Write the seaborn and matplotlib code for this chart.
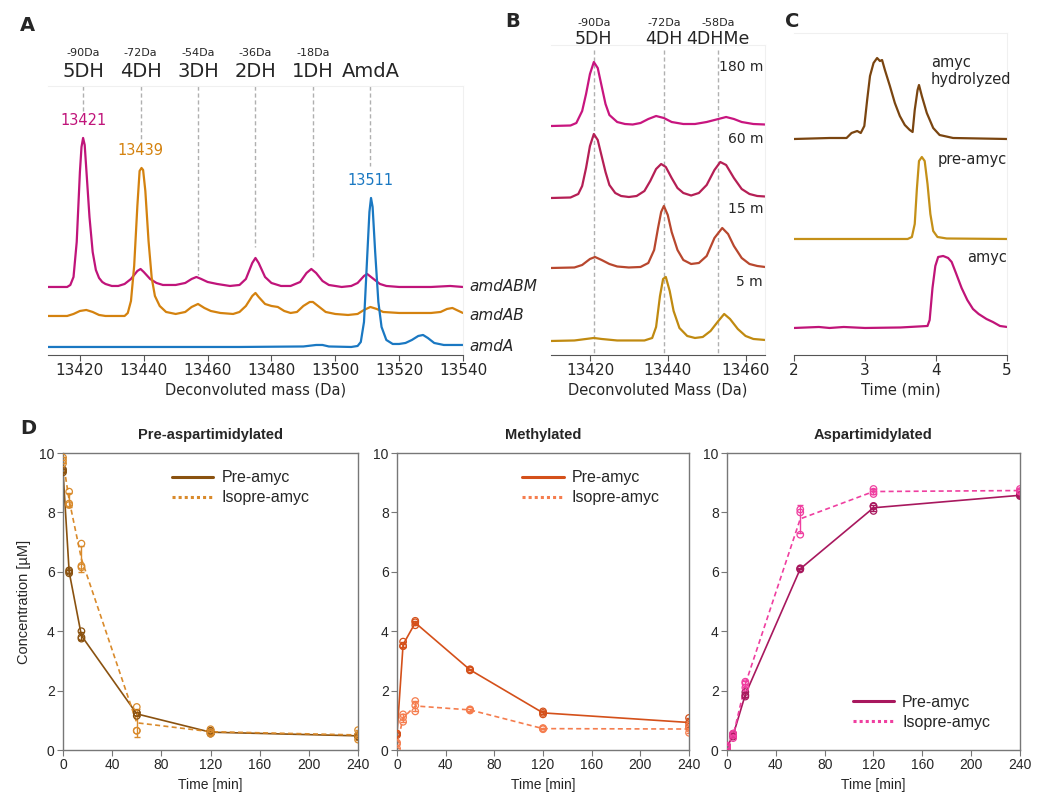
import numpy as np
import pandas as pd
import matplotlib
matplotlib.use("Agg")
import matplotlib.pyplot as plt
from matplotlib.lines import Line2D
import seaborn as sns

sns.set_style("white")
plt.rcParams["font.family"] = ["DejaVu Sans"]

# ---------------- Panel A: deconvoluted spectra (height above trace baseline) ----------------
A_ABM_MASS = [13410, 13416, 13417, 13418, 13419, 13420, 13420.5, 13421, 13421.5, 13422, 13423, 13424,
              13425, 13426, 13427, 13428, 13430, 13432, 13434, 13436, 13438, 13439, 13440, 13442,
              13444, 13446, 13450, 13453, 13455, 13456.5, 13458, 13460, 13463, 13467, 13470, 13472,
              13474, 13475, 13476, 13478, 13480, 13483, 13486, 13489, 13491, 13492.5, 13494, 13496,
              13498, 13502, 13505, 13507, 13509, 13510, 13512, 13514, 13516, 13520, 13530, 13536, 13540]
A_ABM_INT = [0, 0, 2, 10, 45, 115, 140, 149, 142, 118, 70, 35,
             17, 9, 5, 3, 1, 1, 3, 8, 16, 18, 15, 8,
             4, 2, 2, 4, 8, 10, 8, 5, 3, 1, 2, 8,
             24, 29, 24, 10, 4, 1, 1, 5, 14, 18, 14, 6,
             2, 0, 1, 4, 11, 13, 8, 3, 1, 0, 0, 1, 0]
A_AB_MASS = [13410, 13416, 13418, 13420, 13422, 13424, 13426, 13428, 13434, 13435, 13436, 13437,
             13438, 13438.7, 13439.3, 13439.8, 13440.5, 13441.5, 13442.5, 13443.5, 13445, 13447, 13450,
             13453, 13455, 13457, 13459, 13461, 13464, 13468, 13470, 13472, 13474, 13475, 13476,
             13478, 13480, 13482, 13484, 13486, 13488, 13490, 13492, 13493, 13495, 13497, 13500,
             13504, 13507, 13509, 13511, 13513, 13515, 13520, 13530, 13533, 13535, 13536.7, 13538, 13540]
A_AB_INT = [0, 0, 2, 5, 6, 4, 1, 0, 0, 3, 15, 50,
            110, 145, 148, 146, 125, 75, 38, 20, 10, 4, 2,
            4, 9, 12, 8, 5, 3, 2, 4, 10, 20, 23, 19,
            12, 10, 9, 5, 3, 4, 10, 14, 14, 9, 4, 2,
            1, 2, 6, 9, 7, 4, 3, 3, 4, 7, 8, 6, 3]
A_A_MASS = [13410, 13470, 13490, 13494, 13496, 13498, 13505, 13507, 13508, 13509, 13510, 13510.7,
            13511.2, 13511.7, 13512.5, 13513.5, 13514.5, 13516, 13518, 13520, 13522, 13524, 13526,
            13527.5, 13529, 13531, 13534, 13540]
A_A_INT = [0, 0, 0.5, 2, 2, 0.5, 0, 1, 5, 25, 90, 135,
           149, 140, 95, 45, 20, 7, 3, 3, 4, 7, 11,
           12, 9, 4, 2, 2]

A_TRACES = ["amdABM", "amdAB", "amdA"]
A_COLORS = ["#c0147a", "#d4820f", "#1a78c2"]
A_OFFSETS = [68, 39, 8]
A_PEAK_LABELS = ["13421", "13439", "13511"]
A_PEAK_MASS = [13421, 13439, 13511]

A_DH_MASS = [13421, 13439, 13457, 13475, 13493, 13511]
A_DH_NAMES = ["5DH", "4DH", "3DH", "2DH", "1DH", "AmdA"]
A_DH_SHIFT = ["-90Da", "-72Da", "-54Da", "-36Da", "-18Da", ""]
A_DH_LINE_END = [243, 212, 80, 108, 95, 189]

# ---------------- Panel B: time course spectra ----------------
B_180_MASS = [13410, 13415, 13416.5, 13418, 13419, 13420, 13421, 13422, 13423, 13424, 13425, 13427,
              13429, 13431, 13433, 13435, 13437, 13439, 13441, 13444, 13447, 13450, 13453, 13455,
              13457, 13459, 13462, 13465]
B_180_INT = [0, 0.5, 3, 15, 32, 52, 64, 58, 40, 22, 11, 4,
             2, 1.5, 3, 7, 10, 8, 4, 2, 2, 4, 7, 9,
             7, 4, 2, 1.5]
B_60_MASS = [13410, 13415, 13417, 13418, 13419, 13420, 13421, 13422, 13423, 13424, 13425, 13426.5,
             13428, 13430, 13432, 13434, 13435.5, 13437, 13438.3, 13439.5, 13441, 13442.5, 13444,
             13446, 13448, 13450, 13452, 13453.5, 13455, 13457, 13459, 13461, 13463, 13465]
B_60_INT = [0, 0.5, 4, 12, 30, 52, 64, 58, 42, 26, 13, 5,
            2, 1, 2, 7, 17, 29, 34, 31, 20, 10, 5,
            2.5, 5, 13, 28, 36, 33, 20, 9, 4, 2, 1.5]
B_15_MASS = [13410, 13416, 13418, 13420, 13421.3, 13423, 13425, 13427, 13430, 13433, 13435, 13436.5,
             13437.5, 13438.3, 13439, 13440, 13441, 13442.5, 13444, 13446, 13448, 13450, 13452,
             13454, 13455.5, 13457, 13459, 13461, 13463, 13465]
B_15_INT = [0, 0.5, 3, 9, 11, 8, 4, 1.5, 0.5, 1, 5, 18,
            40, 56, 62, 53, 36, 18, 8, 4, 5, 12, 30,
            40, 34, 22, 10, 4, 2, 1]
B_5_MASS = [13410, 13416, 13419, 13421, 13423, 13427, 13434, 13436, 13437, 13438, 13438.8, 13439.5,
            13440.5, 13441.5, 13443, 13445, 13447, 13449, 13451, 13453, 13454.5, 13456, 13458,
            13460, 13462, 13465]
B_5_INT = [0, 0.5, 2, 3, 2, 0.5, 0.5, 3, 14, 45, 62, 64,
           50, 30, 13, 5, 3, 4, 10, 20, 27, 22, 12,
           5, 2, 1]

B_TRACES = ["180 m", "60 m", "15 m", "5 m"]
B_COLORS = ["#c8157f", "#b51f55", "#b8472e", "#c08a10"]
B_OFFSETS = [229, 157, 87, 14]
B_DH_MASS = [13421, 13439, 13453]
B_DH_NAMES = ["5DH", "4DH", "4DHMe"]
B_DH_SHIFT = ["-90Da", "-72Da", "-58Da"]

# ---------------- Panel C: chromatograms ----------------
C_HYD_TIME = [2.0, 2.5, 2.74, 2.81, 2.89, 2.94, 2.99, 3.03, 3.07, 3.12, 3.17, 3.21, 3.24, 3.28,
              3.35, 3.42, 3.49, 3.56, 3.63, 3.67, 3.70, 3.74, 3.76, 3.80, 3.87, 3.96, 4.05, 4.24, 5.0]
C_HYD_INT = [0, 1, 1, 6, 8, 6, 13, 39, 63, 76, 81, 78, 79, 69,
             53, 36, 23, 14, 9, 7, 29, 49, 54, 43, 26, 11, 4, 1, 0]
C_PRE_TIME = [2.0, 3.6, 3.66, 3.70, 3.73, 3.76, 3.80, 3.84, 3.88, 3.92, 3.96, 4.02, 4.15, 5.0]
C_PRE_INT = [0, 0, 2, 15, 50, 78, 82, 78, 55, 25, 8, 2, 0.5, 0]
C_AMYC_TIME = [2.0, 2.35, 2.5, 2.7, 3.0, 3.5, 3.88, 3.91, 3.95, 3.99, 4.03, 4.10, 4.17, 4.22,
               4.28, 4.36, 4.44, 4.52, 4.60, 4.71, 4.80, 4.90, 5.0]
C_AMYC_INT = [0, 1, 0, 1, 0, 0.5, 2, 8, 40, 62, 71, 72, 70, 66,
              55, 40, 28, 19, 14, 9, 6, 2, 1]
C_TRACES = ["amyc\nhydrolyzed", "pre-amyc", "amyc"]
C_COLORS = ["#7a4510", "#c49018", "#c01478"]
C_OFFSETS = [216, 116, 27]

# ---------------- Panel D: kinetics (three replicates per time point) ----------------
TIMES = [0, 5, 15, 60, 120, 240]
D_TITLES = ["Pre-aspartimidylated", "Methylated", "Aspartimidylated"]
D_SERIES = ["Pre-amyc", "Isopre-amyc"]
D_COLORS = [["#8a5210", "#d98a2b"], ["#d4501a", "#f57d4e"], ["#a8185e", "#ef3fa0"]]

PRE_ASP_PRE = [[9.35, 9.45, 9.40], [6.05, 5.95, 6.00], [4.00, 3.80, 3.75],
               [1.25, 1.15, 1.25], [0.55, 0.60, 0.65], [0.45, 0.50, 0.48]]
PRE_ASP_ISO = [[9.85, 9.75, 9.65], [8.70, 8.30, 8.25], [6.95, 6.20, 6.15],
               [1.45, 0.65, 0.65], [0.70, 0.60, 0.55], [0.67, 0.50, 0.35]]
METH_PRE = [[0.55, 0.50, 0.55], [3.50, 3.65, 3.50], [4.35, 4.30, 4.20],
            [2.70, 2.72, 2.68], [1.30, 1.25, 1.20], [1.08, 0.92, 0.78]]
METH_ISO = [[0.25, 0.05, 0.20], [1.20, 0.95, 1.10], [1.65, 1.30, 1.50],
            [1.35, 1.33, 1.37], [0.72, 0.70, 0.74], [0.58, 0.72, 0.82]]
ASP_PRE = [[0.05, 0.10, 0.15], [0.50, 0.55, 0.45], [1.85, 1.95, 1.80],
           [6.10, 6.08, 6.12], [8.22, 8.05, 8.20], [8.58, 8.55, 8.60]]
ASP_ISO = [[0.05, 0.10, 0.15], [0.55, 0.40, 0.50], [2.25, 2.30, 2.10],
           [8.10, 7.25, 8.00], [8.79, 8.62, 8.70], [8.79, 8.70, 8.72]]


def spectra_df(names, masses, ints, offsets):
    rows = []
    for n, m, h, off in zip(names, masses, ints, offsets):
        for x, y in zip(m, h):
            rows.append({"x": x, "y": y + off, "trace": n})
    return pd.DataFrame(rows)


def style_spectrum_axis(ax):
    sns.despine(ax=ax, left=True, top=False, right=False)
    ax.spines["top"].set_color("#f0f0f0")
    ax.spines["right"].set_color("#f0f0f0")
    ax.spines["bottom"].set_color("#555555")
    ax.set_yticks([])
    ax.set_ylabel("")
    ax.tick_params(axis="x", bottom=True, length=4, color="#555555", labelsize=11, pad=2)
    ax.set_xlabel(ax.get_xlabel(), fontsize=10.5, labelpad=3)


fig = plt.figure(figsize=(10.5, 8.11), dpi=100)

# ---- A ----
axA = fig.add_axes([0.0457, 0.5623, 0.3952, 0.3317])
dfA = spectra_df(A_TRACES, [A_ABM_MASS, A_AB_MASS, A_A_MASS], [A_ABM_INT, A_AB_INT, A_A_INT], A_OFFSETS)
for m, end in zip(A_DH_MASS, A_DH_LINE_END):
    axA.plot([m, m], [269, end], ls=(0, (3, 2)), color="#b0b0b0", lw=1, zorder=1)
sns.lineplot(data=dfA, x="x", y="y", hue="trace", palette=dict(zip(A_TRACES, A_COLORS)),
             estimator=None, sort=False, lw=1.6, legend=False, ax=axA)
axA.set_xlim(13410, 13540)
axA.set_ylim(0, 269)
axA.set_xticks(range(13420, 13541, 20))
axA.set_xlabel("Deconvoluted mass (Da)")
style_spectrum_axis(axA)
for m, lab, n, c in zip(A_PEAK_MASS, A_PEAK_LABELS, A_TRACES, A_COLORS):
    peak = dfA[dfA.trace == n].y.max()
    axA.text(m, peak + 10, lab, color=c, fontsize=10.5, ha="center", va="bottom")
for m, name, shift in zip(A_DH_MASS, A_DH_NAMES, A_DH_SHIFT):
    axA.text(m, 283, name, fontsize=14, ha="center", va="center", clip_on=False)
    if shift:
        axA.text(m, 302, shift, fontsize=8, ha="center", va="center", clip_on=False)
for n, off in zip(A_TRACES, A_OFFSETS):
    axA.text(13542, off, n, fontsize=11, style="italic", ha="left", va="center", clip_on=False)

# ---- B ----
axB = fig.add_axes([0.5248, 0.5623, 0.2038, 0.3822])
dfB = spectra_df(B_TRACES, [B_180_MASS, B_60_MASS, B_15_MASS, B_5_MASS],
                 [B_180_INT, B_60_INT, B_15_INT, B_5_INT], B_OFFSETS)
for m in B_DH_MASS:
    axB.plot([m, m], [305, 0], ls=(0, (3, 2)), color="#b0b0b0", lw=1, zorder=1)
sns.lineplot(data=dfB, x="x", y="y", hue="trace", palette=dict(zip(B_TRACES, B_COLORS)),
             estimator=None, sort=False, lw=1.6, legend=False, ax=axB)
axB.set_xlim(13410, 13465)
axB.set_ylim(0, 310)
axB.set_xticks([13420, 13440, 13460])
axB.set_xlabel("Deconvoluted Mass (Da)")
style_spectrum_axis(axB)
for m, name, shift in zip(B_DH_MASS, B_DH_NAMES, B_DH_SHIFT):
    axB.text(m, 316, name, fontsize=12.5, ha="center", va="center", clip_on=False)
    axB.text(m, 332, shift, fontsize=8, ha="center", va="center", clip_on=False)
for n, off in zip(B_TRACES, B_OFFSETS):
    axB.text(13464.5, off + 59, n, fontsize=10, ha="right", va="center")

# ---- C ----
axC = fig.add_axes([0.7562, 0.5623, 0.2029, 0.397])
dfC = spectra_df(C_TRACES, [C_HYD_TIME, C_PRE_TIME, C_AMYC_TIME],
                 [C_HYD_INT, C_PRE_INT, C_AMYC_INT], C_OFFSETS)
sns.lineplot(data=dfC, x="x", y="y", hue="trace", palette=dict(zip(C_TRACES, C_COLORS)),
             estimator=None, sort=False, lw=1.6, legend=False, ax=axC)
axC.set_xlim(2, 5)
axC.set_ylim(0, 322)
axC.set_xticks([2, 3, 4, 5])
axC.set_xlabel("Time (min)")
style_spectrum_axis(axC)
axC.text(3.93, 284, C_TRACES[0], fontsize=10.5, ha="left", va="center", linespacing=1.2)
axC.text(5.0, 195, C_TRACES[1], fontsize=10.5, ha="right", va="center")
axC.text(5.0, 97, C_TRACES[2], fontsize=10.5, ha="right", va="center")

# ---- D ----
d_data = [[PRE_ASP_PRE, PRE_ASP_ISO], [METH_PRE, METH_ISO], [ASP_PRE, ASP_ISO]]
d_lefts = [0.06, 0.3781, 0.6924]
d_widths = [0.281, 0.2781, 0.279]
legend_locs = [(0.32, 0.99), (0.38, 0.99), (0.38, 0.02)]
for i in range(3):
    ax = fig.add_axes([d_lefts[i], 0.0752, d_widths[i], 0.3662])
    handles = []
    for j, (series, reps) in enumerate(zip(D_SERIES, d_data[i])):
        c = D_COLORS[i][j]
        df = pd.DataFrame([{"time": t, "conc": v} for t, vals in zip(TIMES, reps) for v in vals])
        ls = "-" if j == 0 else (0, (3, 2))
        sns.lineplot(data=df, x="time", y="conc", color=c, errorbar="sd", err_style="bars",
                     err_kws={"capsize": 2, "elinewidth": 1}, lw=1.2, linestyle=ls, ax=ax)
        sns.scatterplot(data=df, x="time", y="conc", marker="o", s=22, facecolor="none",
                        edgecolor=c, linewidth=0.9, ax=ax, zorder=3)
        handles.append(Line2D([], [], color=c, lw=2.2, linestyle="-" if j == 0 else (0, (1, 1))))
    ax.set_xlim(0, 240)
    ax.set_ylim(0, 10)
    ax.set_xticks(range(0, 241, 40))
    ax.set_yticks(range(0, 11, 2))
    for s in ax.spines.values():
        s.set_color("#777777")
        s.set_linewidth(1)
    ax.tick_params(axis="both", direction="out", length=4, color="#777777", labelsize=10,
                   left=True, bottom=True, pad=2)
    for lab in ax.get_xticklabels() + ax.get_yticklabels():
        lab.set_fontfamily("Liberation Sans")
    ax.set_xlabel("Time [min]", fontsize=10, family="Liberation Sans", labelpad=4)
    ax.set_ylabel("Concentration [µM]" if i == 0 else "", fontsize=10.5, family="Liberation Sans",
                  labelpad=6)
    ax.set_title(D_TITLES[i], fontsize=10.5, fontweight="bold", family="Liberation Sans", pad=10)
    ax.legend(handles, D_SERIES, loc="upper left" if i < 2 else "lower left",
              bbox_to_anchor=legend_locs[i], frameon=False, handlelength=2.6,
              handletextpad=0.5, labelspacing=0.3, prop={"family": "Liberation Sans", "size": 11.5})

for letter, x, y in [("A", 0.019, 0.969), ("B", 0.481, 0.973), ("C", 0.748, 0.973), ("D", 0.019, 0.472)]:
    fig.text(x, y, letter, fontsize=14, fontweight="bold", ha="left", va="center")

fig.savefig("out.png", dpi=100, facecolor="white")
